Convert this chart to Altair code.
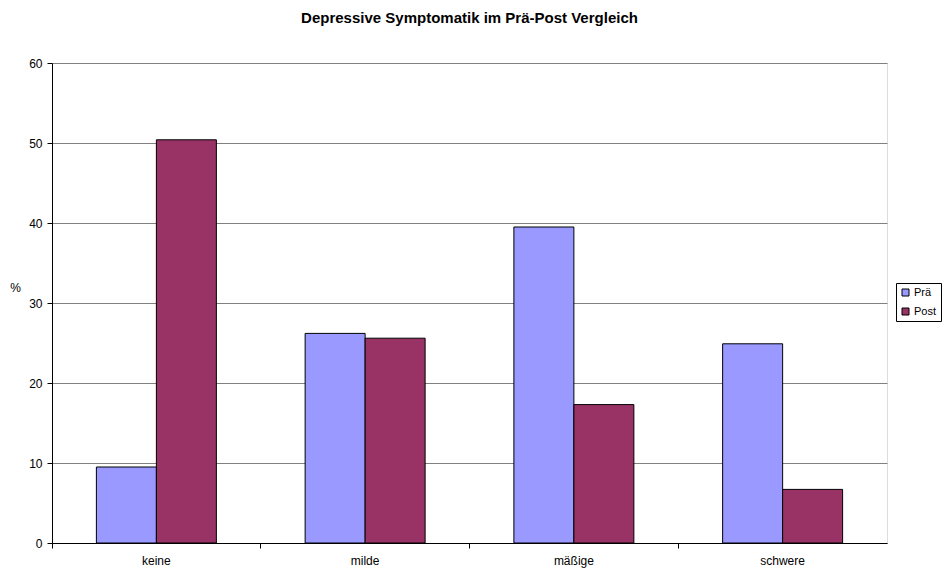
import altair as alt
import pandas as pd

categories = ["keine", "milde", "mäßige", "schwere"]
series = ["Prä", "Post"]
pre_values = [9.5, 26.2, 39.5, 24.9]
post_values = [50.4, 25.6, 17.3, 6.7]

rows = []
for c, a, b in zip(categories, pre_values, post_values):
    rows.append({"Kategorie": c, "Zeitpunkt": "Prä", "Wert": a})
    rows.append({"Kategorie": c, "Zeitpunkt": "Post", "Wert": b})
df = pd.DataFrame(rows)

FONT = "Liberation Sans"

chart = alt.Chart(df).mark_bar(stroke="black", strokeWidth=1).encode(
    x=alt.X(
        "Kategorie:N",
        sort=categories,
        scale=alt.Scale(paddingInner=0, paddingOuter=0),
        axis=alt.Axis(
            title=None,
            labelAngle=0,
            bandPosition=0,
            tickSize=5,
            tickColor="black",
            domainColor="black",
            labelPadding=7,
            labelFontSize=12,
            labelFont=FONT,
            labelColor="black",
            grid=False,
        ),
    ),
    xOffset=alt.XOffset(
        "Zeitpunkt:N",
        sort=series,
        scale=alt.Scale(paddingInner=0, paddingOuter=0.7396),
    ),
    y=alt.Y(
        "Wert:Q",
        scale=alt.Scale(domain=[0, 60], nice=False),
        axis=alt.Axis(
            title="%",
            titleAngle=0,
            titleX=-37,
            titleY=224,
            titleAlign="center",
            titleBaseline="middle",
            titleFont=FONT,
            titleFontSize=12,
            titleFontWeight="normal",
            titleColor="black",
            values=[0, 10, 20, 30, 40, 50, 60],
            tickSize=5,
            tickColor="black",
            domainColor="black",
            labelPadding=5,
            labelFontSize=12,
            labelFont=FONT,
            labelColor="black",
            grid=True,
            gridColor="#808080",
            gridWidth=1,
        ),
    ),
    color=alt.Color(
        "Zeitpunkt:N",
        sort=series,
        scale=alt.Scale(domain=series, range=["#9999FF", "#993366"]),
        legend=alt.Legend(
            title=None,
            orient="none",
            legendX=844,
            legendY=220,
            symbolType="square",
            symbolSize=49,
            symbolStrokeColor="black",
            symbolStrokeWidth=1,
            labelFont=FONT,
            labelFontSize=11,
            labelColor="black",
            strokeColor="black",
            padding=4,
            rowPadding=7,
            labelOffset=3,
        ),
    ),
).properties(
    width=835,
    height=480,
    title=alt.TitleParams(
        "Depressive Symptomatik im Prä-Post Vergleich",
        font=FONT,
        fontSize=15,
        fontWeight="bold",
        color="black",
        anchor="middle",
        offset=31,
    ),
    autosize=alt.AutoSizeParams(type="none"),
    padding={"left": 52, "top": 63, "right": 55, "bottom": 26},
).configure_view(
    stroke="#808080", strokeWidth=1
).configure(background="white")

chart.save("out.html", embed_options={"renderer": "svg", "actions": False})
